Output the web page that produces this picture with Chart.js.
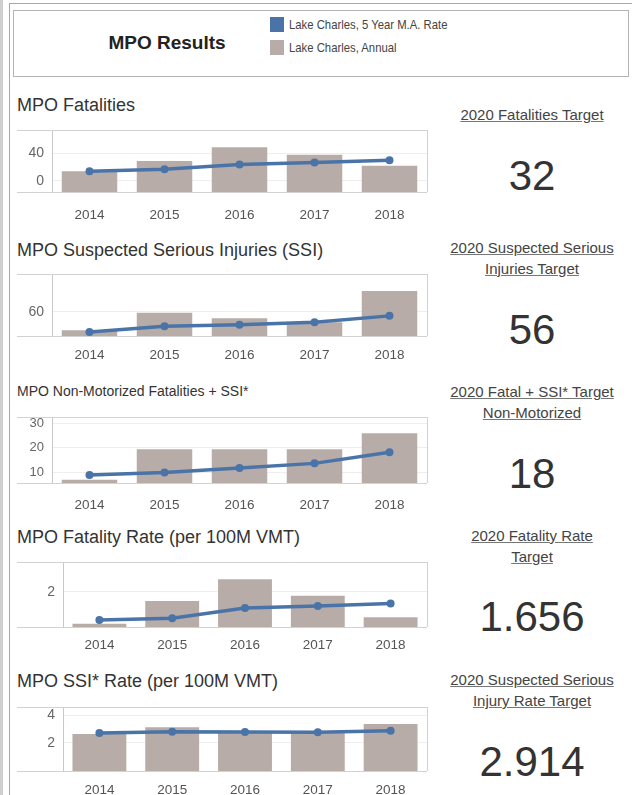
<!DOCTYPE html>
<html>
<head>
<meta charset="utf-8">
<script src="https://cdn.jsdelivr.net/npm/chart.js@4.4.1/dist/chart.umd.min.js"></script>
<style>
  body { margin: 0; background: #fff; font-family: "Liberation Sans", Arial, sans-serif; color: #333; }
  #page { position: relative; width: 632px; height: 795px; overflow: hidden; }
  .abs { position: absolute; }
  .stripe { left: 0; top: 0; width: 3px; height: 795px; background: #cfcfcf; }
  .frame { left: 9px; top: 3px; width: 640px; height: 800px; border-left: 1px solid #a8a8a8; border-top: 1px solid #a8a8a8; }
  .legendbox { left: 13px; top: 10px; width: 614px; height: 65px; border: 1px solid #b4b4b4; }
  .lgtitle { left: 60px; top: 33px; width: 214px; text-align: center; font-weight: bold; font-size: 19px; line-height: 19px; color: #222; }
  .sw { width: 14px; height: 15px; }
  .lgtxt { font-size: 13px; line-height: 15px; color: #444; white-space: nowrap; transform: scaleX(0.87); transform-origin: 0 0; }
  .title { left: 17px; font-size: 18px; line-height: 18px; color: #333; white-space: nowrap; }
  .title.small { font-size: 14px; line-height: 14px; }
  .thead { left: 432px; width: 200px; text-align: center; font-size: 15px; line-height: 21px; color: #444; text-decoration: underline; text-decoration-color: #777; }
  .tnum { left: 432px; width: 200px; text-align: center; font-size: 42px; line-height: 42px; color: #333; }
</style>
</head>
<body>
<div id="page">
  <div class="abs stripe"></div>
  <div class="abs frame"></div>
  <div class="abs legendbox"></div>
  <div class="abs lgtitle">MPO Results</div>
  <div class="abs sw" id="swMA" style="left:270px;top:17px"></div>
  <div class="abs lgtxt" style="left:289px;top:17px">Lake Charles, 5 Year M.A. Rate</div>
  <div class="abs sw" id="swAnnual" style="left:270px;top:40px"></div>
  <div class="abs lgtxt" style="left:289px;top:40px">Lake Charles, Annual</div>

  <div class="abs title" style="top:96px">MPO Fatalities</div>
  <div class="abs title" style="top:241px">MPO Suspected Serious Injuries (SSI)</div>
  <div class="abs title small" style="top:384px">MPO Non-Motorized Fatalities + SSI*</div>
  <div class="abs title" style="top:528px">MPO Fatality Rate (per 100M VMT)</div>
  <div class="abs title" style="top:672px">MPO SSI* Rate (per 100M VMT)</div>

  <div class="abs thead" style="top:104px">2020 Fatalities Target</div>
  <div class="abs tnum" style="top:155px">32</div>
  <div class="abs thead" style="top:237px">2020 Suspected Serious<br>Injuries Target</div>
  <div class="abs tnum" style="top:309px">56</div>
  <div class="abs thead" style="top:381px">2020 Fatal + SSI* Target<br>Non-Motorized</div>
  <div class="abs tnum" style="top:453px">18</div>
  <div class="abs thead" style="top:525px">2020 Fatality Rate<br>Target</div>
  <div class="abs tnum" style="top:596px">1.656</div>
  <div class="abs thead" style="top:669px">2020 Suspected Serious<br>Injury Rate Target</div>
  <div class="abs tnum" style="top:741px">2.914</div>

  <div class="abs" id="p1"><canvas id="c1"></canvas></div>
  <div class="abs" id="p2"><canvas id="c2"></canvas></div>
  <div class="abs" id="p3"><canvas id="c3"></canvas></div>
  <div class="abs" id="p4"><canvas id="c4"></canvas></div>
  <div class="abs" id="p5"><canvas id="c5"></canvas></div>
</div>

<script>
// ---------- data ----------
const years = ['2014', '2015', '2016', '2017', '2018'];

const fatalAnnual = [14, 29, 49, 38, 22];
const fatalMA     = [14, 17, 24, 27, 30];
const fatalTicks  = [0, 40];

const ssiAnnual = [37, 59, 52, 47, 86];
const ssiMA     = [35, 42, 44, 47, 55];
const ssiTicks  = [60];

const nmAnnual = [7, 19.5, 19.5, 19.5, 26];
const nmMA     = [9, 10, 11.8, 13.7, 18.2];
const nmTicks  = [10, 20, 30];

const fatalRateAnnual = [0.36, 1.53, 2.66, 1.81, 0.69];
const fatalRateMA     = [0.55, 0.64, 1.17, 1.28, 1.40];
const fatalRateTicks  = [2];

const ssiRateAnnual = [2.64, 3.12, 2.76, 2.76, 3.36];
const ssiRateMA     = [2.71, 2.81, 2.79, 2.76, 2.88];
const ssiRateTicks  = [2, 4];

// ---------- colours ----------
const BLUE = '#4a74a8';
const TAUPE = '#b7aca7';
document.getElementById('swMA').style.background = BLUE;
document.getElementById('swAnnual').style.background = TAUPE;

Chart.defaults.font.family = '"Liberation Sans", Arial, sans-serif';
Chart.defaults.animation = false;

// frame lines of each pane (top/bottom run under the tick labels too)
const paneFrame = {
  id: 'paneFrame',
  beforeDatasetsDraw(chart) {
    const { ctx, chartArea: a } = chart;
    ctx.save();
    ctx.strokeStyle = '#d2d2d2';
    ctx.lineWidth = 1;
    ctx.beginPath();
    ctx.moveTo(0, Math.round(a.top) + 0.5);    ctx.lineTo(a.right, Math.round(a.top) + 0.5);
    ctx.moveTo(0, Math.round(a.bottom) + 0.5); ctx.lineTo(a.right, Math.round(a.bottom) + 0.5);
    ctx.moveTo(Math.round(a.right) + 0.5, a.top); ctx.lineTo(Math.round(a.right) + 0.5, a.bottom);
    ctx.stroke();
    ctx.restore();
  }
};

const TOP_PAD = 10;

function makePanel(n, annual, ma, ticks, yMin, yMax, plotTop, plotBottom, axisW, labelY, yFont) {
  const xAxisH = 28;
  const box = document.getElementById('p' + n);
  box.style.left = '17px';
  box.style.top = (plotTop - TOP_PAD) + 'px';
  box.style.width = '414px';
  box.style.height = (TOP_PAD + plotBottom - plotTop + xAxisH) + 'px';
  // label centre sits at axis top + padding + lineHeight/2
  const xPad = labelY - plotBottom - 13.5 * 1.2 / 2;

  return new Chart(document.getElementById('c' + n), {
    type: 'bar',
    data: {
      labels: years,
      datasets: [
        {
          type: 'line',
          data: ma,
          borderColor: BLUE,
          backgroundColor: BLUE,
          borderWidth: 3.5,
          pointRadius: 4,
          pointBorderWidth: 0,
          tension: 0,
          order: 0,
        },
        {
          type: 'bar',
          data: annual,
          backgroundColor: TAUPE,
          base: yMin,
          categoryPercentage: 1,
          barPercentage: 0.74,
          order: 1,
        }
      ]
    },
    options: {
      responsive: true,
      maintainAspectRatio: false,
      layout: { padding: { top: TOP_PAD, right: 1, left: 0, bottom: 0 } },
      plugins: { legend: { display: false }, tooltip: { enabled: false } },
      scales: {
        x: {
          grid: { display: false },
          border: { display: false },
          ticks: { color: '#555', font: { size: 13.5 }, padding: xPad, maxRotation: 0 },
          afterFit(s) { s.height = xAxisH; s.paddingLeft = 0; s.paddingRight = 0; }
        },
        y: {
          min: yMin,
          max: yMax,
          grid: { color: '#eeeeee', drawTicks: false },
          border: { color: '#c8c8c8' },
          ticks: { color: '#666', font: { size: yFont }, padding: 8 },
          afterBuildTicks(axis) { axis.ticks = ticks.map(v => ({ value: v })); },
          afterFit(s) { s.width = axisW; s.paddingTop = 0; s.paddingBottom = 0; }
        }
      }
    },
    plugins: [paneFrame]
  });
}

makePanel(1, fatalAnnual, fatalMA, fatalTicks, -16, 74, 130, 192, 35, 207, 14);
makePanel(2, ssiAnnual, ssiMA, ssiTicks, 30, 107, 274, 336, 35, 347, 14);
makePanel(3, nmAnnual, nmMA, nmTicks, 5.7, 32.6, 417, 483, 35, 497, 13);
makePanel(4, fatalRateAnnual, fatalRateMA, fatalRateTicks, 0.19, 3.55, 562, 627, 46, 637, 14);
makePanel(5, ssiRateAnnual, ssiRateMA, ssiRateTicks, -0.05, 4.6, 707, 771, 46, 782, 14);
</script>
</body>
</html>
